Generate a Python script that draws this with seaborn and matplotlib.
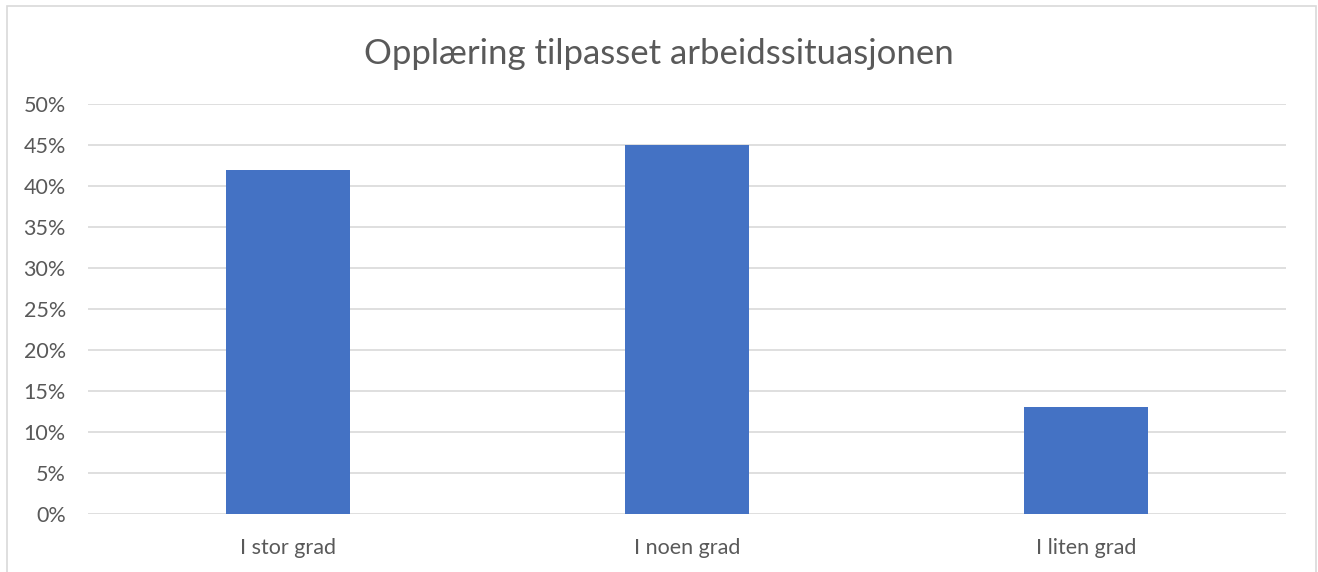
import pandas as pd
import seaborn as sns
import matplotlib.pyplot as plt
from matplotlib.ticker import PercentFormatter
from matplotlib.patches import Rectangle

categories = ['I stor grad', 'I noen grad', 'I liten grad']
values = [0.42, 0.45, 0.13]
title = 'Opplæring tilpasset arbeidssituasjonen'

df = pd.DataFrame({'kategori': categories, 'andel': values})

sns.set_style('white')
plt.rcParams['font.family'] = ['Lato', 'DejaVu Sans']

fig = plt.figure(figsize=(13.18, 5.72), dpi=100)
ax = fig.add_axes([0.0668, 0.1014, 0.9088, 0.7168])

sns.barplot(data=df, x='kategori', y='andel', color='#4472C4', width=0.31,
            saturation=1, linewidth=0, ax=ax, zorder=3)

ax.set_ylim(0, 0.5)
ax.set_xlim(-0.5, 2.5)
ax.set_yticks([i / 100 for i in range(0, 51, 5)])
ax.yaxis.set_major_formatter(PercentFormatter(1.0, decimals=0))
ax.grid(axis='y', color='#D9D9D9', linewidth=1.2, zorder=0)
for s in ax.spines.values():
    s.set_visible(False)
ax.tick_params(axis='both', length=0, labelsize=15.5, labelcolor='#595959')
ax.tick_params(axis='y', pad=16)
ax.tick_params(axis='x', pad=17)
ax.set_xlabel('')
ax.set_ylabel('')

fig.text(0.5, 0.906, title, ha='center', va='center', fontsize=25, color='#595959')

# chart border
fig.patches.append(Rectangle((7 / 1318, -0.05), 1309 / 1318, 1 - 6 / 572 + 0.05,
                             transform=fig.transFigure, fill=False,
                             edgecolor='#D9D9D9', linewidth=1.2))

fig.savefig('out.png', dpi=100)
